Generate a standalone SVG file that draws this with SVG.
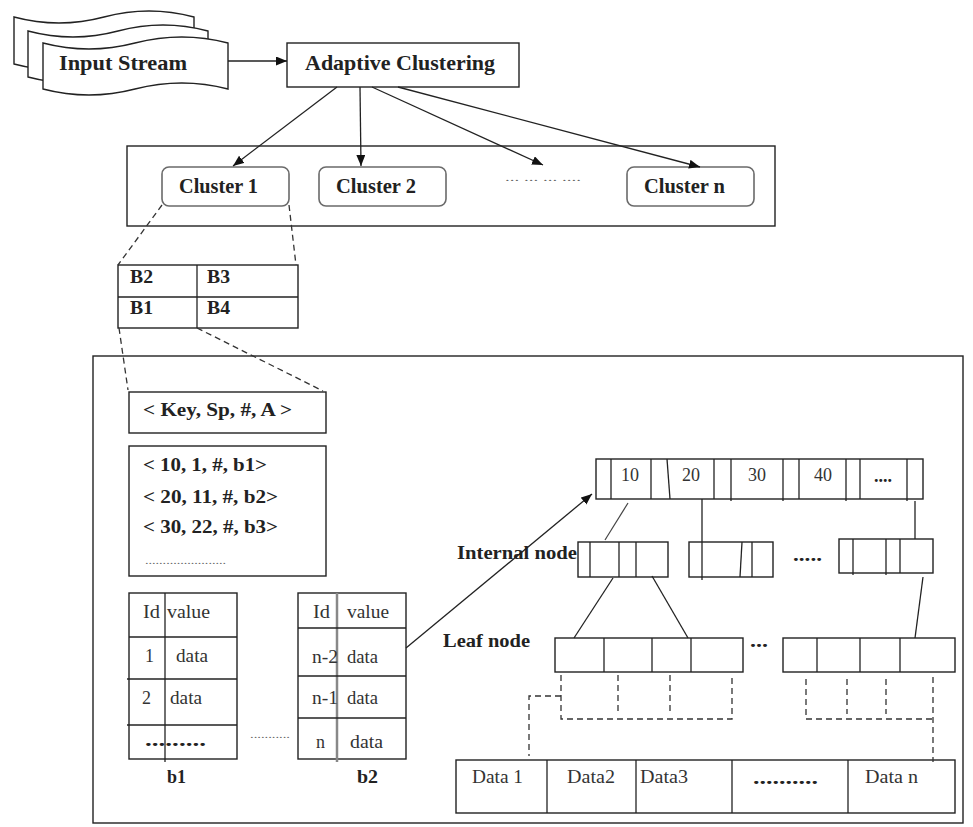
<svg xmlns="http://www.w3.org/2000/svg" width="973" height="827" viewBox="0 0 973 827">
<style>
.ln{stroke:#222;stroke-width:1.3;fill:none}
.box{fill:#fff;stroke:#222;stroke-width:1.4}
.rbox{fill:#fff;stroke:#6a6a6a;stroke-width:1.6}
.dash{stroke:#333;stroke-width:1.3;fill:none;stroke-dasharray:6 4}
.tb{font-family:"Liberation Serif",serif;font-weight:bold;fill:#222}
.tr{font-family:"Liberation Serif",serif;fill:#333}
.dots{font-family:"Liberation Serif",serif;fill:#666}
</style>
<defs>
<marker id="arr" markerUnits="userSpaceOnUse" markerWidth="12" markerHeight="10" refX="11" refY="4.5" orient="auto">
<path d="M0,0 L11,4.5 L0,9 z" fill="#111"/>
</marker>
</defs>
<rect width="973" height="827" fill="#fff"/>

<!-- containers -->
<rect id="cluster-container" x="127" y="146" width="648" height="80" fill="none" stroke="#222" stroke-width="1.4"/>
<rect id="index-container" x="93" y="356" width="870" height="467" fill="none" stroke="#222" stroke-width="1.4"/>

<g id="input-stream">
<path class="box" d="M14,17 Q59,29 104,17 Q149,5 194,17 L194,64 Q149,52 104,64 Q59,76 14,64 Z"/>
<path class="box" d="M28,31 Q73,43 118,31 Q163,19 208,31 L208,77 Q163,65 118,77 Q73,89 28,77 Z"/>
<path class="box" d="M43,43 Q89,55 135,43 Q182,31 228,43 L228,89 Q182,77 135,89 Q89,101 43,89 Z"/>
<text class="tb" x="59" y="70" font-size="21" textLength="128" lengthAdjust="spacingAndGlyphs">Input Stream</text>
</g>

<g id="adaptive-clustering">
<rect class="box" x="287" y="43" width="232" height="44"/>
<text class="tb" x="305" y="70" font-size="21" textLength="190" lengthAdjust="spacingAndGlyphs">Adaptive Clustering</text>
</g>

<g id="cluster1">
<rect class="rbox" x="162" y="167" width="127" height="39" rx="7"/>
<text class="tb" x="179" y="193" font-size="21" textLength="79" lengthAdjust="spacingAndGlyphs">Cluster 1</text>
</g>
<g id="cluster2">
<rect class="rbox" x="319" y="167" width="127" height="39" rx="7"/>
<text class="tb" x="336" y="193" font-size="21" textLength="80" lengthAdjust="spacingAndGlyphs">Cluster 2</text>
</g>
<g id="cluster-dots">
<text class="dots" x="505" y="181" font-size="11" textLength="76" lengthAdjust="spacingAndGlyphs">... ... ... ....</text>
</g>
<g id="clustern">
<rect class="rbox" x="627" y="167" width="127" height="39" rx="7"/>
<text class="tb" x="644" y="193" font-size="21" textLength="81" lengthAdjust="spacingAndGlyphs">Cluster n</text>
</g>

<g id="bucket-grid">
<rect class="box" x="118" y="265" width="180" height="63"/>
<line class="ln" x1="118" y1="297" x2="298" y2="297"/>
<line class="ln" x1="197" y1="265" x2="197" y2="328"/>
<text class="tb" x="130" y="283" font-size="18" textLength="23" lengthAdjust="spacingAndGlyphs">B2</text>
<text class="tb" x="207" y="283" font-size="18" textLength="23" lengthAdjust="spacingAndGlyphs">B3</text>
<text class="tb" x="130" y="314" font-size="18" textLength="23" lengthAdjust="spacingAndGlyphs">B1</text>
<text class="tb" x="207" y="314" font-size="18" textLength="23" lengthAdjust="spacingAndGlyphs">B4</text>
</g>

<g id="key-format">
<rect class="box" x="129" y="392" width="197" height="41"/>
<text class="tb" x="143" y="416" font-size="19" textLength="149" lengthAdjust="spacingAndGlyphs">&lt; Key, Sp, #, A &gt;</text>
</g>

<g id="records">
<rect class="box" x="129" y="446" width="197" height="130"/>
<text class="tb" x="143" y="471" font-size="19" textLength="124" lengthAdjust="spacingAndGlyphs">&lt; 10, 1, #, b1&gt;</text>
<text class="tb" x="143" y="503" font-size="19" textLength="135" lengthAdjust="spacingAndGlyphs">&lt; 20, 11, #, b2&gt;</text>
<text class="tb" x="143" y="533" font-size="19" textLength="135" lengthAdjust="spacingAndGlyphs">&lt; 30, 22, #, b3&gt;</text>
<text class="dots" x="145" y="564" font-size="10" textLength="81" lengthAdjust="spacingAndGlyphs">.......................</text>
</g>

<g id="b1">
<rect class="box" x="129" y="593" width="108" height="166"/>
<line class="ln" x1="165" y1="593" x2="165" y2="762"/>
<line class="ln" x1="129" y1="637" x2="237" y2="637"/>
<line class="ln" x1="127" y1="679" x2="237" y2="679"/>
<line class="ln" x1="127" y1="725" x2="237" y2="725"/>
<text class="tr" x="143" y="618" font-size="18" textLength="17" lengthAdjust="spacingAndGlyphs">Id</text>
<text class="tr" x="167" y="618" font-size="18" textLength="43" lengthAdjust="spacingAndGlyphs">value</text>
<text class="tr" x="145" y="662" font-size="18">1</text>
<text class="tr" x="176" y="662" font-size="18" textLength="32" lengthAdjust="spacingAndGlyphs">data</text>
<text class="tr" x="142" y="704" font-size="18">2</text>
<text class="tr" x="170" y="704" font-size="18" textLength="32" lengthAdjust="spacingAndGlyphs">data</text>
<text class="tb" x="145" y="746" font-size="18" textLength="61" lengthAdjust="spacingAndGlyphs">.........</text>
<text class="tb" x="167" y="783" font-size="18" textLength="19" lengthAdjust="spacingAndGlyphs">b1</text>
</g>

<g id="between-dots">
<text class="dots" x="250" y="738" font-size="10" textLength="40" lengthAdjust="spacingAndGlyphs">...........</text>
</g>

<g id="b2">
<rect class="box" x="298" y="593" width="108" height="166"/>
<line x1="337" y1="593" x2="337" y2="762" stroke="#888" stroke-width="2.5"/>
<line class="ln" x1="298" y1="628" x2="406" y2="628"/>
<line class="ln" x1="298" y1="676" x2="406" y2="676"/>
<line class="ln" x1="298" y1="718" x2="406" y2="718"/>
<text class="tr" x="313" y="618" font-size="18" textLength="17" lengthAdjust="spacingAndGlyphs">Id</text>
<text class="tr" x="347" y="618" font-size="18" textLength="42" lengthAdjust="spacingAndGlyphs">value</text>
<text class="tr" x="312" y="663" font-size="18" textLength="26" lengthAdjust="spacingAndGlyphs">n-2</text>
<text class="tr" x="347" y="663" font-size="18" textLength="31" lengthAdjust="spacingAndGlyphs">data</text>
<text class="tr" x="312" y="704" font-size="18" textLength="26" lengthAdjust="spacingAndGlyphs">n-1</text>
<text class="tr" x="347" y="704" font-size="18" textLength="31" lengthAdjust="spacingAndGlyphs">data</text>
<text class="tr" x="316" y="748" font-size="18">n</text>
<text class="tr" x="350" y="748" font-size="18" textLength="33" lengthAdjust="spacingAndGlyphs">data</text>
<text class="tb" x="357" y="783" font-size="18" textLength="21" lengthAdjust="spacingAndGlyphs">b2</text>
</g>

<g id="root-node">
<rect class="box" x="596" y="459" width="327" height="40"/>
<line class="ln" x1="611" y1="459" x2="611" y2="499"/>
<line class="ln" x1="651" y1="459" x2="651" y2="499"/>
<line class="ln" x1="667" y1="459" x2="670" y2="499"/>
<line class="ln" x1="714" y1="459" x2="714" y2="499"/>
<line class="ln" x1="731" y1="459" x2="731" y2="501"/>
<line class="ln" x1="783" y1="459" x2="783" y2="501"/>
<line class="ln" x1="799" y1="459" x2="799" y2="499"/>
<line class="ln" x1="846" y1="459" x2="846" y2="501"/>
<line class="ln" x1="860" y1="459" x2="860" y2="499"/>
<line class="ln" x1="907" y1="459" x2="907" y2="501"/>
<g class="tr" font-size="18" text-anchor="middle" fill="#444">
<text x="630" y="481">10</text>
<text x="691" y="481">20</text>
<text x="757" y="481">30</text>
<text x="823" y="481">40</text>
</g>
<text class="tb" x="883" y="482" font-size="18" text-anchor="middle">....</text>
</g>

<g id="internal-label">
<text class="tb" x="457" y="559" font-size="18" textLength="120" lengthAdjust="spacingAndGlyphs">Internal node</text>
</g>
<g id="internal-a">
<rect class="box" x="578" y="542" width="90" height="35"/>
<line class="ln" x1="590" y1="542" x2="590" y2="577"/>
<line class="ln" x1="619" y1="542" x2="619" y2="577"/>
<line class="ln" x1="636" y1="542" x2="636" y2="577"/>
</g>
<g id="internal-b">
<rect class="box" x="689" y="542" width="84" height="35"/>
<line class="ln" x1="742" y1="542" x2="740" y2="577"/>
<line class="ln" x1="752" y1="542" x2="752" y2="577"/>
</g>
<g id="internal-dots">
<text class="tb" x="793" y="561" font-size="18" textLength="29" lengthAdjust="spacingAndGlyphs">.....</text>
</g>
<g id="internal-c">
<rect class="box" x="839" y="539" width="94" height="34"/>
<line class="ln" x1="853" y1="539" x2="853" y2="575"/>
<line class="ln" x1="886" y1="539" x2="886" y2="575"/>
<line class="ln" x1="900" y1="539" x2="900" y2="573"/>
</g>

<g id="leaf-label">
<text class="tb" x="443" y="647" font-size="18" textLength="87" lengthAdjust="spacingAndGlyphs">Leaf node</text>
</g>
<g id="leaf-1">
<rect class="box" x="555" y="638" width="188" height="34"/>
<line class="ln" x1="604" y1="638" x2="604" y2="672"/>
<line class="ln" x1="652" y1="638" x2="652" y2="672"/>
<line class="ln" x1="691" y1="638" x2="691" y2="672"/>
</g>
<g id="leaf-dots">
<text class="tb" x="750" y="647" font-size="18" textLength="18" lengthAdjust="spacingAndGlyphs">...</text>
</g>
<g id="leaf-2">
<rect class="box" x="783" y="638" width="172" height="34"/>
<line class="ln" x1="817" y1="638" x2="817" y2="672"/>
<line class="ln" x1="860" y1="638" x2="860" y2="672"/>
<line class="ln" x1="900" y1="638" x2="900" y2="672"/>
</g>

<g id="data-row">
<rect class="box" x="456" y="760" width="499" height="53"/>
<line class="ln" x1="547" y1="760" x2="547" y2="813"/>
<line class="ln" x1="636" y1="760" x2="636" y2="813"/>
<line class="ln" x1="732" y1="760" x2="732" y2="813"/>
<line class="ln" x1="848" y1="760" x2="848" y2="813"/>
<text class="tr" x="472" y="783" font-size="19" textLength="51" lengthAdjust="spacingAndGlyphs">Data 1</text>
<text class="tr" x="567" y="783" font-size="19" textLength="48" lengthAdjust="spacingAndGlyphs">Data2</text>
<text class="tr" x="640" y="783" font-size="19" textLength="48" lengthAdjust="spacingAndGlyphs">Data3</text>
<text class="tb" x="753" y="784" font-size="18" textLength="65" lengthAdjust="spacingAndGlyphs">..........</text>
<text class="tr" x="865" y="783" font-size="19" textLength="53" lengthAdjust="spacingAndGlyphs">Data n</text>
</g>

<g id="connectors">
<line class="ln" x1="228" y1="61" x2="287" y2="61" marker-end="url(#arr)"/>
<line class="ln" x1="337" y1="87" x2="233" y2="166" marker-end="url(#arr)"/>
<line class="ln" x1="360" y1="87" x2="361" y2="166" marker-end="url(#arr)"/>
<line class="ln" x1="372" y1="87" x2="543" y2="165" marker-end="url(#arr)"/>
<line class="ln" x1="398" y1="87" x2="700" y2="167" marker-end="url(#arr)"/>
<line class="dash" x1="162" y1="205" x2="118" y2="265"/>
<line class="dash" x1="289" y1="205" x2="296" y2="265"/>
<line class="dash" x1="119" y1="328" x2="128" y2="390"/>
<line class="dash" x1="197" y1="328" x2="323" y2="391"/>
<line class="ln" x1="406" y1="648" x2="592" y2="494" marker-end="url(#arr)"/>
<line x1="628" y1="503" x2="605" y2="540" stroke="#444" stroke-width="1.2"/>
<line class="ln" x1="702" y1="499" x2="702" y2="580"/>
<line class="ln" x1="915" y1="501" x2="915" y2="539"/>
<line class="ln" x1="613" y1="578" x2="574" y2="638"/>
<line class="ln" x1="652" y1="576" x2="688" y2="638"/>
<line class="ln" x1="923" y1="577" x2="915" y2="638"/>
<path class="dash" d="M561,675 L561,719 L732,719 L732,675"/>
<line class="dash" x1="618" y1="675" x2="618" y2="713"/>
<line class="dash" x1="670" y1="675" x2="670" y2="713"/>
<path class="dash" d="M561,696 L529,696 L529,756"/>
<path class="dash" d="M806,679 L806,719 L933,719"/>
<line class="dash" x1="847" y1="679" x2="847" y2="714"/>
<line class="dash" x1="886" y1="679" x2="886" y2="714"/>
<line class="dash" x1="933" y1="677" x2="933" y2="762"/>
</g>
</svg>
